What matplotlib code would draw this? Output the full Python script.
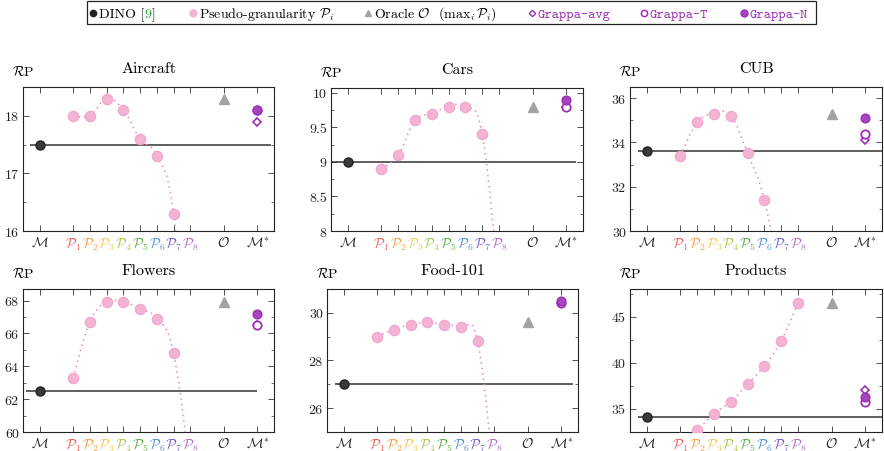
import numpy as np
import matplotlib
matplotlib.use("Agg")
import matplotlib.pyplot as plt
from matplotlib.path import Path
from matplotlib.patches import PathPatch, Rectangle
from matplotlib.ticker import MultipleLocator, FormatStrFormatter

plt.rcParams['font.family'] = 'serif'
plt.rcParams['font.serif'] = ['cmr10']
plt.rcParams['mathtext.fontset'] = 'cm'
plt.rcParams['axes.formatter.use_mathtext'] = True

# ---- data ----
titles = ['Aircraft', 'Cars', 'CUB', 'Flowers', 'Food-101', 'Products']
dino = [17.5, 9.0, 33.6, 62.5, 27.0, 34.1]
# pseudo-granularity P1..P8 (values below the axis are estimated from the curve)
pseudo = [
    [18.0, 18.0, 18.3, 18.1, 17.6, 17.3, 16.3, 13.0],
    [8.9, 9.1, 9.6, 9.7, 9.8, 9.8, 9.4, 7.2],
    [33.4, 34.9, 35.3, 35.2, 33.5, 31.4, 27.5, 24.0],
    [63.3, 66.7, 67.9, 67.9, 67.5, 66.9, 64.8, 57.5],
    [29.0, 29.3, 29.5, 29.6, 29.5, 29.4, 28.8, 23.0],
    [31.8, 32.75, 34.5, 35.8, 37.7, 39.7, 42.4, 46.5],
]
oracle = [18.3, 9.8, 35.3, 67.9, 29.6, 46.5]
grappa_avg = [17.9, 9.8, 34.1, 66.5, 30.4, 37.1]
grappa_t = [18.1, 9.8, 34.4, 66.5, 30.4, 35.8]
grappa_n = [18.1, 9.9, 35.1, 67.2, 30.5, 36.3]

xtick_labels = [r'$\mathcal{M}$'] + [r'$\mathcal{P}_%d$' % i for i in range(1, 9)] \
    + [r'$\mathcal{O}$', r'$\mathcal{M}^{*}$']
xtick_pos = [0, 2, 3, 4, 5, 6, 7, 8, 9, 11, 13]

# ---- styling ----
ylims = [(16, 18.5), (8, 10.07), (30, 36.5), (60, 68.7), (25, 31), (32.5, 48)]
ymajor = [1, 0.5, 2, 2, 2, 5]
yminor = [0.5, 0.25, 1, 1, 1, 2.5]
hspan = [(-0.6, 13.8), (-1, 13.6), (-0.5, 14), (-0.8, 13.0), (-0.5, 13.7), (-0.5, 14)]
# axes boxes in pixels: left, top, right, bottom
boxes = [(23, 88, 274, 232), (331, 89, 583, 232), (630, 88, 882, 232),
         (23, 290, 274, 433), (327, 290, 578, 433), (630, 290, 882, 433)]
p_colors = ['#ef5a55', '#f59c3c', '#f6c65a', '#a4c940', '#5aac44',
            '#4a8fd0', '#7656cc', '#b264cc']
PINK = '#f4b3d3'
PINK_LINE = '#ee86bb'
PURPLE = '#9c2fb6'
GRAY = '#a3a3a3'
DARK = '#333333'

W, H = 884, 452
fig = plt.figure(figsize=(W / 100, H / 100), dpi=100)


def smooth_path(xs, ys, k=0.2):
    pts = np.column_stack([xs, ys]).astype(float)
    n = len(pts)
    verts = [pts[0]]
    codes = [Path.MOVETO]
    for i in range(n - 1):
        p0 = pts[max(i - 1, 0)]
        p1 = pts[i]
        p2 = pts[i + 1]
        p3 = pts[min(i + 2, n - 1)]
        verts += [p1 + (p2 - p0) * k, p2 - (p3 - p1) * k, p2]
        codes += [Path.CURVE4] * 3
    return Path(verts, codes)


px_x = [2, 3, 4, 5, 6, 7, 8, 9]

for i in range(6):
    l, t, r, b = boxes[i]
    ax = fig.add_axes([l / W, 1 - b / H, (r - l) / W, (b - t) / H])
    ax.set_xlim(-1, 14)
    ax.set_ylim(*ylims[i])

    ax.hlines(dino[i], hspan[i][0], hspan[i][1], color=DARK, lw=1.1, zorder=2)
    ax.plot([0], [dino[i]], 'o', ms=6.5, color='#3a3a3a', mec='#222222', zorder=5)

    patch = PathPatch(smooth_path(px_x, pseudo[i]), fill=False, ec=PINK_LINE,
                      lw=1.1, ls=(0, (1, 2.6)), zorder=3)
    ax.add_patch(patch)
    ax.plot(px_x, pseudo[i], 'o', ms=7.5, color=PINK, mec='#efa6cb', mew=0.8,
            ls='none', zorder=4)

    ax.plot([11], [oracle[i]], '^', ms=6.5, color=GRAY, mec=GRAY, zorder=5)
    ax.plot([13], [grappa_avg[i]], 'D', ms=4.3, mfc='white', mec=PURPLE, mew=1.2, zorder=5)
    ax.plot([13], [grappa_t[i]], 'o', ms=6, mfc='white', mec=PURPLE, mew=1.3, zorder=6)
    ax.plot([13], [grappa_n[i]], 'o', ms=6.3, color='#a744c0', mec=PURPLE, mew=1.0, zorder=7)

    ax.set_xticks(xtick_pos)
    ax.set_xticklabels(xtick_labels, fontsize=10.5)
    ax.yaxis.set_major_locator(MultipleLocator(ymajor[i]))
    ax.yaxis.set_minor_locator(MultipleLocator(yminor[i]))
    ax.yaxis.set_major_formatter(FormatStrFormatter('%g'))
    ax.tick_params(which='both', direction='in', top=True, right=True,
                   labelsize=10, colors=DARK, labelcolor='#222222')
    ax.tick_params(which='major', length=4, width=0.6, pad=3)
    ax.tick_params(which='minor', length=2.5, width=0.5)
    for lab, c in zip(ax.get_xticklabels()[1:9], p_colors):
        lab.set_color(c)
    for sp in ax.spines.values():
        sp.set_linewidth(0.8)
        sp.set_color('#222222')

    ax.set_title(titles[i], fontsize=11.5, pad=11)
    ax.text(0.0, 1.11, r'$\mathcal{R}\mathrm{P}$', transform=ax.transAxes,
            ha='center', va='center', fontsize=10)

# ---- legend drawn in pixel space ----
lax = fig.add_axes([0, 0, 1, 1])
lax.set_xlim(0, W)
lax.set_ylim(H, 0)
lax.axis('off')
lax.add_patch(Rectangle((87, 2), 729, 23, fill=False, ec='#222222', lw=0.9))
ly = 14
base = ly + 4
renderer = fig.canvas.get_renderer()


def chain(x, parts):
    # draw consecutive text pieces with their own colours on one baseline
    for s, c in parts:
        txt = lax.text(x, base, s, fontsize=10, color=c, va='baseline')
        x = txt.get_window_extent(renderer).x1
    return x


lax.plot([93], [ly], 'o', ms=4.5, color='#222222')
chain(99, [('DINO [', 'black'), ('9', '#2a9d4a'), (']', 'black')])
lax.plot([193], [ly], 'o', ms=5, color=PINK)
lax.text(199, base, r'Pseudo-granularity $\mathcal{P}_i$', fontsize=10, va='baseline')
lax.plot([368], [ly], '^', ms=4.5, color=GRAY)
lax.text(374, base, r'Oracle $\mathcal{O}$  $(\mathrm{max}_i\,\mathcal{P}_i)$', fontsize=10,
         va='baseline')
lax.plot([532], [ly], 'D', ms=3.2, mfc='white', mec=PURPLE, mew=1.0)
lax.text(538, base, 'Grappa-avg', fontsize=10, family='cmtt10', color=PURPLE, va='baseline')
lax.plot([644], [ly], 'o', ms=4.5, mfc='white', mec=PURPLE, mew=1.1)
lax.text(650, base, 'Grappa-T', fontsize=10, family='cmtt10', color=PURPLE, va='baseline')
lax.plot([744], [ly], 'o', ms=5, color='#a744c0', mec=PURPLE)
lax.text(750, base, 'Grappa-N', fontsize=10, family='cmtt10', color=PURPLE, va='baseline')

fig.savefig('out.png', dpi=100)
